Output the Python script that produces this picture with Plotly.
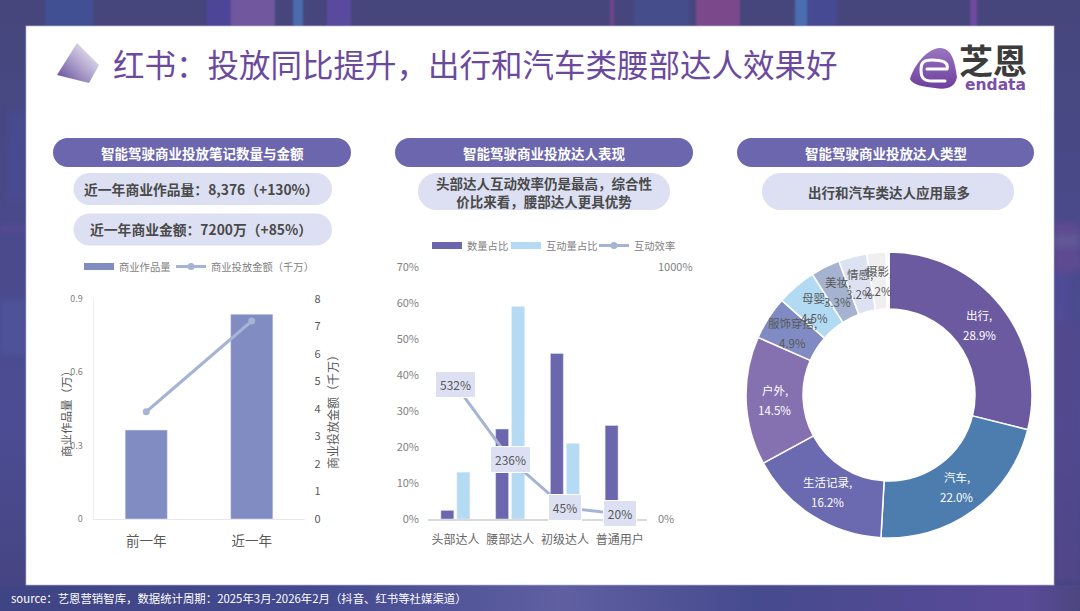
import base64, math
import plotly.graph_objects as go

FONT = "Noto Sans CJK SC"
W, H = 1080, 611

# ---- data ----
years = ["前一年", "近一年"]
works = [0.364, 0.8376]
spend = [3.9, 7.2]

tiers = ["头部达人", "腰部达人", "初级达人", "普通用户"]
count_share = [2.4, 25, 46, 26]
engage_share = [13, 59, 21, 5]
efficiency = [532, 236, 45, 20]

types = ["出行", "汽车", "生活记录", "户外", "服饰穿搭", "母婴", "美妆", "情感", "摄影", "其他"]
type_share = [28.9, 22.0, 16.2, 14.5, 4.9, 4.5, 3.3, 3.2, 2.2, 0.3]
type_colors = ["#6B5AA0", "#4C7DAE", "#6B69AF", "#8571B0", "#7F8BC2", "#B3DAF3", "#A5B3D1", "#DDE2F3", "#EFEFEF", "#F7F7F7"]
type_textcolors = ["#ffffff"] * 4 + ["#595959"] * 6

title_text = "红书：投放同比提升，出行和汽车类腰部达人效果好"
source_text = "source：艺恩营销智库，数据统计周期：2025年3月-2026年2月（抖音、红书等社媒渠道）"

# ---- helpers ----
def fx(px): return px / W
def fy(py): return 1 - py / H

def pill(x0, y0, x1, y1, color):
    r = (y1 - y0) / 2
    k = 0.55 * r
    X = lambda v: round(fx(v), 5)
    Y = lambda v: round(fy(v), 5)
    d = (f"M{X(x0+r)},{Y(y0)} L{X(x1-r)},{Y(y0)} "
         f"C{X(x1-r+k)},{Y(y0)} {X(x1)},{Y(y0+r-k)} {X(x1)},{Y(y0+r)} "
         f"C{X(x1)},{Y(y0+r+k)} {X(x1-r+k)},{Y(y1)} {X(x1-r)},{Y(y1)} "
         f"L{X(x0+r)},{Y(y1)} "
         f"C{X(x0+r-k)},{Y(y1)} {X(x0)},{Y(y0+r+k)} {X(x0)},{Y(y0+r)} "
         f"C{X(x0)},{Y(y0+r-k)} {X(x0+r-k)},{Y(y0)} {X(x0+r)},{Y(y0)} Z")
    return dict(type="path", path=d, xref="paper", yref="paper", fillcolor=color,
                line=dict(width=0), layer="below")

def text(px, py, s, size, color, bold=False, family=FONT, **kw):
    if bold:
        s = f"<b>{s}</b>"
    return dict(x=fx(px), y=fy(py), xref="paper", yref="paper", text=s, showarrow=False,
                font=dict(family=family, size=size, color=color), xanchor=kw.pop("xanchor", "center"),
                yanchor="middle", **kw)

# ---- backdrop drawn as one SVG ----
streaks = [(45, 48, "#3F5299"), (207, 24, "#4F479F"), (231, 44, "#7B5CA6"), (293, 10, "#4A76B8"),
           (327, 24, "#5E4CA8"), (610, 4, "#7A4490"), (634, 55, "#44508F"), (696, 44, "#8A4A90"),
           (795, 12, "#4E78BE"), (807, 30, "#444C98"), (970, 7, "#7A4CAA")]
s_rects = "".join(f'<rect x="{x}" y="-10" width="{w}" height="37" fill="{c}"/>' for x, w, c in streaks)
svg = f'''<svg xmlns="http://www.w3.org/2000/svg" width="{W}" height="{H}" viewBox="0 0 {W} {H}">
<defs>
<linearGradient id="bg" x1="0" y1="0" x2="0" y2="1">
<stop offset="0" stop-color="#46467C"/><stop offset="0.4" stop-color="#4A4A8C"/>
<stop offset="0.7" stop-color="#4C4C94"/><stop offset="1" stop-color="#45437F"/></linearGradient>
<linearGradient id="bot" x1="0" y1="0" x2="1" y2="0">
<stop offset="0" stop-color="#3F4484"/><stop offset="0.3" stop-color="#444A90"/>
<stop offset="0.52" stop-color="#5F5FA2"/><stop offset="0.7" stop-color="#464A8E"/>
<stop offset="0.95" stop-color="#5A4A98"/><stop offset="1" stop-color="#4C4680"/></linearGradient>
<linearGradient id="gem" x1="0" y1="1" x2="1" y2="0">
<stop offset="0" stop-color="#5E4596"/><stop offset="0.45" stop-color="#A99CC8"/>
<stop offset="1" stop-color="#FFFFFF"/></linearGradient>
<linearGradient id="logo" x1="0" y1="0" x2="0" y2="1">
<stop offset="0" stop-color="#9A74C0"/><stop offset="1" stop-color="#6E3F9E"/></linearGradient>
<filter id="b" x="-30%" y="-30%" width="160%" height="160%"><feGaussianBlur stdDeviation="3"/></filter>
<filter id="s" x="-30%" y="-30%" width="160%" height="160%"><feGaussianBlur stdDeviation="1"/></filter>
</defs>
<rect width="{W}" height="{H}" fill="url(#bg)"/>
<g filter="url(#s)" opacity="0.8">{s_rects}</g>
<rect x="0" y="585" width="{W}" height="26" fill="url(#bot)"/>
<g filter="url(#b)" opacity="0.6">
<rect x="8" y="110" width="18" height="90" fill="#4A4C96"/>
<rect x="0" y="225" width="26" height="8" fill="#5E4A98"/>
<rect x="0" y="300" width="26" height="55" fill="#5058A0"/>
<rect x="1054" y="222" width="26" height="50" fill="#6B4C92"/>
<rect x="1054" y="235" width="26" height="12" fill="#72639F"/>
<rect x="1054" y="272" width="16" height="50" fill="#524C9C"/>
<rect x="1054" y="322" width="26" height="260" fill="#57478C"/>
</g>
<rect x="26" y="26" width="1028" height="559" fill="#ffffff" stroke="#B8B8D0" stroke-width="0.7"/>
<path d="M57,75 L77,43 L99,65 L89,83 Z" fill="url(#gem)"/>
<path d="M910,79 C914,66 926,49 940,48 C952,48 955,62 957,77 C955,88 946,90 935,88 C925,87 912,85 910,79 Z" fill="url(#logo)"/>
<path d="M946,69 L927,69 M947,69 C949,62 942,60 932,60 C922,60 921,64 921,70 C921,78 924,81 932,81 L945,81"
 stroke="#ffffff" stroke-width="3" fill="none" stroke-linecap="round"/>
</svg>'''
svg_uri = "data:image/svg+xml;base64," + base64.b64encode(svg.encode()).decode()

# ---- traces ----
BAR_L = "#818CC2"
BAR_D = "#6B66AD"
BAR_S = "#B5DAF4"
LINE = "#A5B3D5"

fig = go.Figure()
fig.add_trace(go.Bar(x=years, y=works, xaxis="x", yaxis="y", marker_color=BAR_L, width=0.4,
                     showlegend=False, name="商业作品量"))
fig.add_trace(go.Scatter(x=[years[0]], y=[None], xaxis="x", yaxis="y", mode="lines", name="商业作品量",
                         line=dict(color=BAR_L, width=7), legend="legend"))
fig.add_trace(go.Scatter(x=years, y=spend, xaxis="x", yaxis="y2", mode="lines+markers",
                         name="商业投放金额（千万）", legend="legend2",
                         line=dict(color=LINE, width=3), marker=dict(color=LINE, size=7)))

fig.add_trace(go.Bar(x=tiers, y=count_share, xaxis="x2", yaxis="y3", marker_color=BAR_D,
                     showlegend=False, name="数量占比"))
fig.add_trace(go.Bar(x=tiers, y=engage_share, xaxis="x2", yaxis="y3", marker_color=BAR_S,
                     showlegend=False, name="互动量占比"))
fig.add_trace(go.Scatter(x=[tiers[0]], y=[None], xaxis="x2", yaxis="y3", mode="lines", name="数量占比",
                         line=dict(color=BAR_D, width=7), legend="legend3"))
fig.add_trace(go.Scatter(x=[tiers[0]], y=[None], xaxis="x2", yaxis="y3", mode="lines", name="互动量占比",
                         line=dict(color=BAR_S, width=7), legend="legend4"))
fig.add_trace(go.Scatter(x=tiers, y=efficiency, xaxis="x2", yaxis="y4", mode="lines+markers",
                         name="互动效率", legend="legend5",
                         line=dict(color=LINE, width=3), marker=dict(color=LINE, size=7)))

CX, CY, R_OUT, R_IN = 889, 395, 143, 86
fig.add_trace(go.Pie(labels=types, values=type_share, sort=False, direction="clockwise", rotation=0,
                     hole=R_IN / R_OUT, textinfo="none", showlegend=False,
                     marker=dict(colors=type_colors, line=dict(color="#ffffff", width=1.5)),
                     domain=dict(x=[fx(CX - R_OUT), fx(CX + R_OUT)], y=[fy(CY + R_OUT), fy(CY - R_OUT)])))

# ---- annotations ----
ann = [text(202, 153, "智能驾驶商业投放笔记数量与金额", 13.5, "#ffffff", True),
       text(544, 153, "智能驾驶商业投放达人表现", 13.5, "#ffffff", True),
       text(886, 153, "智能驾驶商业投放达人类型", 13.5, "#ffffff", True),
       text(201, 189, "近一年商业作品量：8,376（+130%）", 13.8, "#4A4A4A", True),
       text(201, 229.5, "近一年商业金额：7200万（+85%）", 13.8, "#4A4A4A", True),
       text(544, 192, "头部达人互动效率仍是最高，综合性<br>价比来看，腰部达人更具优势", 13.5, "#4A4A4A", True),
       text(889, 192, "出行和汽车类达人应用最多", 13.5, "#4A4A4A", True),
       text(9, 598, source_text, 11.4, "#ffffff", xanchor="left"),
       text(993, 60, "芝恩", 34, "#3C3C3C", True),
       text(995, 85, "endata", 15.5, "#7B4FA8", True, family="DejaVu Sans"),
       text(66, 411, "商业作品量（万）", 11.5, "#595959", textangle=-90)]

# efficiency value boxes, tied to the secondary axis of the middle chart
for t, v in zip(tiers, efficiency):
    s = f"{v}%"
    ann.append(dict(x=t, y=v, xref="x2", yref="y4", text=s, showarrow=False,
                    font=dict(family=FONT, size=12, color="#595959"),
                    bgcolor="#DCE0F2", bordercolor="#ffffff", borderwidth=1,
                    width=7 * len(s) + 9, height=23))

# donut labels placed from the values
R_MID = (R_OUT + R_IN) / 2
cum = 0
for name, v, c in zip(types, type_share, type_textcolors):
    a = 2 * math.pi * (cum + v / 2) / 100
    cum += v
    if name == "其他":
        continue
    px = CX + R_MID * math.sin(a)
    py = CY - R_MID * math.cos(a)
    ann.append(text(px, py - 10, f"{name},", 11.5, c))
    ann.append(text(px, py + 10, f"{v:.1f}%", 11.5, c))

# ---- layout ----
pills = [pill(53, 138, 351, 167, "#6B66AD"), pill(395, 138, 693, 167, "#6B66AD"), pill(737, 138, 1034, 167, "#6B66AD"),
         pill(73.5, 173, 332, 205, "#DCE0F2"), pill(73.5, 213.5, 332, 245.5, "#DCE0F2"),
         pill(418, 173, 670, 210, "#DCE0F2"), pill(762, 173, 1014, 210, "#DCE0F2")]

tick = lambda size, color="#7F7F7F": dict(family=FONT, size=size, color=color)

def one_legend(text_px, y_px):
    return dict(orientation="h", x=fx(text_px - 40), y=fy(y_px), xanchor="left", yanchor="middle",
                font=tick(10.3), bgcolor="rgba(0,0,0,0)", itemwidth=30)

fig.update_layout(
    width=W, height=H, margin=dict(l=0, r=0, t=0, b=0, autoexpand=False),
    paper_bgcolor="#46467C", plot_bgcolor="rgba(0,0,0,0)",
    font=dict(family=FONT, color="#595959"),
    title=dict(text=title_text, x=fx(113), xanchor="left", y=fy(66), yanchor="middle",
               xref="paper", yref="paper", font=dict(family=FONT, size=31.5, color="#6B4A9E")),
    barmode="group", bargap=0.415, bargroupgap=0.19,
    images=[dict(source=svg_uri, xref="paper", yref="paper", x=0, y=1, sizex=1, sizey=1,
                 sizing="stretch", xanchor="left", yanchor="top", layer="below")],
    shapes=pills, annotations=ann,
    xaxis=dict(domain=[fx(93.5), fx(304.5)], anchor="y", type="category", range=[-0.5, 1.5],
               showline=True, linecolor="#E8E8E8", linewidth=1, ticks="", tickfont=tick(13.5, "#595959"),
               ticklabelstandoff=10, showgrid=False, zeroline=False),
    yaxis=dict(domain=[fy(519), fy(299)], anchor="x", range=[0, 0.9], tickvals=[0, 0.3, 0.6, 0.9],
               ticktext=["0", "0.3", "0.6", "0.9"], showline=True, linecolor="#EEEEEE", linewidth=1,
               showgrid=False, zeroline=False, ticks="", tickfont=tick(9), ticklabelstandoff=8),
    yaxis2=dict(domain=[fy(519), fy(299)], anchor="x", overlaying="y", side="right", range=[0, 8], dtick=1,
                showgrid=False, zeroline=False, showline=False, ticks="", tickfont=tick(11, "#595959"),
                ticklabelstandoff=9,
                title=dict(text="商业投放金额（千万）", font=tick(12, "#595959"), standoff=9)),
    xaxis2=dict(domain=[fx(428), fx(647)], anchor="y3", type="category", range=[-0.5, 3.5],
                showline=True, linecolor="#D9D9D9", linewidth=1.5, ticks="", tickfont=tick(12, "#666666"),
                ticklabelstandoff=9, showgrid=False, zeroline=False),
    yaxis3=dict(domain=[fy(519), fy(267)], anchor="x2", range=[0, 70], dtick=10, ticksuffix="%",
                showgrid=False, zeroline=False, showline=False, ticks="", tickfont=tick(11), ticklabelstandoff=8),
    yaxis4=dict(domain=[fy(519), fy(267)], anchor="x2", overlaying="y3", side="right", range=[0, 1000],
                tickvals=[0, 1000], ticktext=["0%", "1000%"], showgrid=False, zeroline=False, showline=False,
                ticks="", tickfont=tick(11), ticklabelstandoff=10),
    legend=one_legend(119, 266.5),
    legend2=one_legend(211, 266.5),
    legend3=one_legend(467, 245.5),
    legend4=one_legend(546, 245.5),
    legend5=one_legend(634, 245.5),
)

fig.write_html("out.html", config=dict(displayModeBar=False),
               post_script="document.body.style.margin='0';document.body.style.overflow='hidden';")
